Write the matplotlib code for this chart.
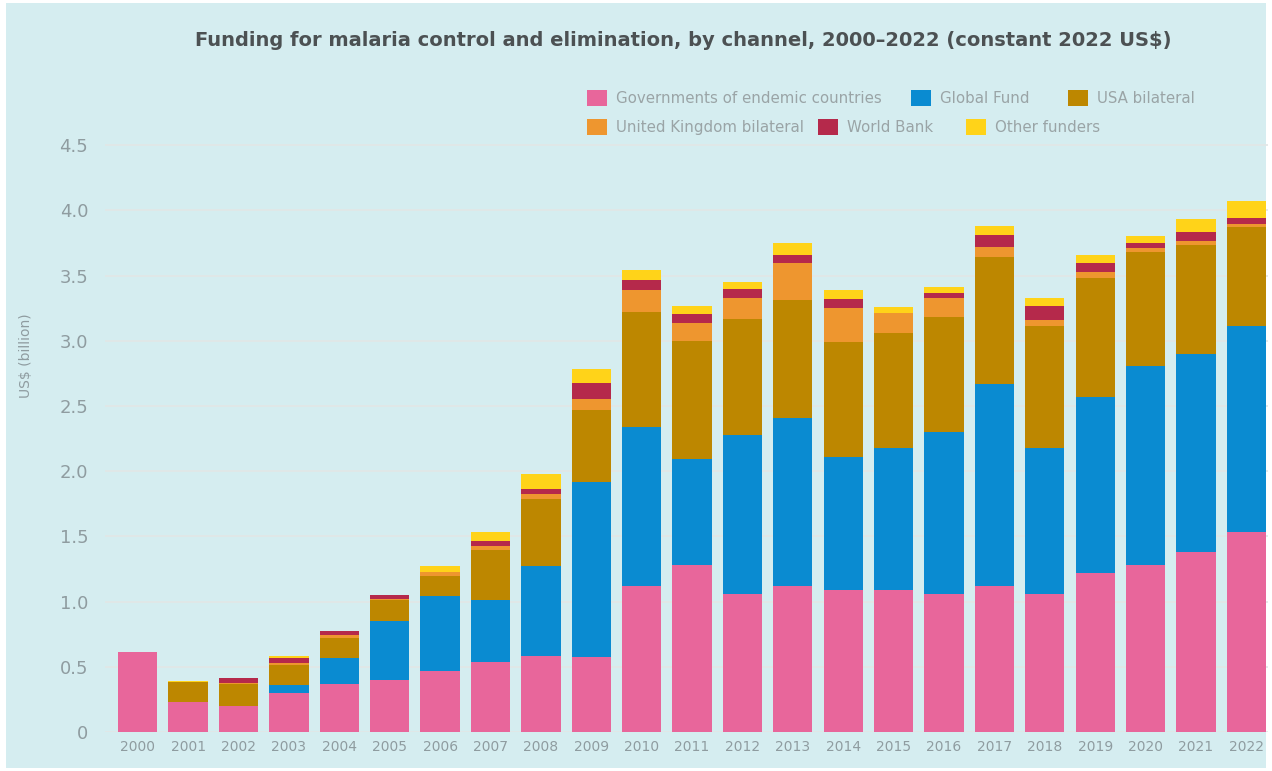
import matplotlib.pyplot as plt
from matplotlib.patches import Rectangle

# Funding for malaria control and elimination by channel (US$ billion, constant 2022)
years = [str(y) for y in range(2000, 2023)]
gov   = [0.61, 0.23, 0.20, 0.30, 0.37, 0.40, 0.47, 0.535, 0.58, 0.575, 1.12, 1.28,
         1.06, 1.12, 1.09, 1.09, 1.06, 1.12, 1.06, 1.22, 1.28, 1.38, 1.53]
gf    = [0.00, 0.00, 0.00, 0.06, 0.195, 0.45, 0.57, 0.475, 0.69, 1.345, 1.22, 0.81,
         1.22, 1.285, 1.02, 1.085, 1.24, 1.55, 1.115, 1.35, 1.53, 1.52, 1.58]
usa   = [0.00, 0.15, 0.165, 0.15, 0.155, 0.16, 0.16, 0.385, 0.52, 0.55, 0.88, 0.905,
         0.89, 0.905, 0.88, 0.885, 0.885, 0.97, 0.935, 0.91, 0.87, 0.835, 0.765]
uk    = [0.00, 0.00, 0.01, 0.02, 0.025, 0.01, 0.03, 0.035, 0.035, 0.08, 0.17, 0.14,
         0.155, 0.29, 0.26, 0.15, 0.14, 0.08, 0.05, 0.05, 0.03, 0.03, 0.02]
wb    = [0.00, 0.00, 0.04, 0.04, 0.03, 0.03, 0.00, 0.035, 0.035, 0.13, 0.08, 0.07,
         0.07, 0.06, 0.07, 0.00, 0.04, 0.09, 0.11, 0.07, 0.04, 0.07, 0.05]
other = [0.00, 0.01, 0.00, 0.01, 0.00, 0.00, 0.04, 0.07, 0.12, 0.10, 0.07, 0.06,
         0.055, 0.09, 0.07, 0.05, 0.05, 0.07, 0.06, 0.06, 0.05, 0.10, 0.13]

series = [
    ('Governments of endemic countries', gov, '#e8669b'),
    ('Global Fund', gf, '#0a8bd1'),
    ('USA bilateral', usa, '#bd8700'),
    ('United Kingdom bilateral', uk, '#ee962f'),
    ('World Bank', wb, '#b5294b'),
    ('Other funders', other, '#ffd319'),
]
# legend entry placement (figure pixels of square's left edge, row centre)
legend_pos = [(587, 98), (911, 98), (1068, 98), (587, 127), (818, 127), (966, 127)]

W, H = 1272, 771
bg = '#d5edf0'
fig = plt.figure(figsize=(W / 100, H / 100), dpi=100)
fig.patches.append(Rectangle((0.005, 0.004), 0.99, 0.992, transform=fig.transFigure,
                             facecolor=bg, edgecolor='none', zorder=-10))
ax = fig.add_axes([0.0825, 0.0506, 0.914, 0.778])
ax.patch.set_alpha(0)

x = range(len(years))
bottom = [0.0] * len(years)
handles = []
for name, vals, color in series:
    bars = ax.bar(x, vals, 0.78, bottom=bottom, color=color, label=name, zorder=3)
    handles.append(bars)
    bottom = [b + v for b, v in zip(bottom, vals)]

ax.set_xlim(-0.65, 22.42)
ax.set_ylim(0, 4.6)
ax.set_yticks([0, 0.5, 1.0, 1.5, 2.0, 2.5, 3.0, 3.5, 4.0, 4.5])
ax.set_yticklabels(['0', '0.5', '1.0', '1.5', '2.0', '2.5', '3.0', '3.5', '4.0', '4.5'])
ax.set_xticks(list(x))
ax.set_xticklabels(years)
ax.tick_params(axis='y', length=0, pad=12, labelsize=13, labelcolor='#8f9ca0')
ax.tick_params(axis='x', length=0, pad=6, labelsize=10, labelcolor='#8f9ca0')
for s in ax.spines.values():
    s.set_visible(False)
ax.grid(axis='y', color='#e2e6e6', linewidth=1.2, zorder=0)
ax.set_ylabel('US$ (billion)', color='#8f9ca0', fontsize=10)
ax.yaxis.set_label_coords(-0.062, 0.628)

for (name, _, _), h, (px, py) in zip(series, handles, legend_pos):
    leg = fig.legend([h], [name], loc='center left',
                     bbox_to_anchor=(px / W, 1 - py / H), frameon=False,
                     fontsize=10.8, handlelength=1.35, handleheight=1.35,
                     handletextpad=0.6, borderpad=0, borderaxespad=0)
    for t in leg.get_texts():
        t.set_color('#9aa4a6')

fig.text(0.537, 0.948, 'Funding for malaria control and elimination, by channel, 2000\u20132022 (constant 2022 US$)',
         ha='center', va='center', fontsize=14, fontweight='bold', color='#4c5153')

fig.savefig('out.png', dpi=100, facecolor='white')
